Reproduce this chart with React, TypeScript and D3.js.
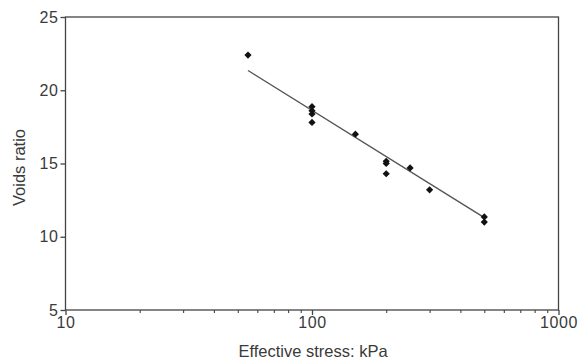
import React, { useEffect, useRef } from "react";
import * as d3 from "d3";

const stress: number[] = [55, 100, 100, 100, 100, 150, 200, 200, 200, 250, 300, 500, 500];
const voids: number[] = [22.4, 18.88, 18.6, 18.38, 17.8, 17.0, 15.15, 15.0, 14.3, 14.7, 13.2, 11.35, 11.0];
const trendStress: number[] = [55, 500];
const trendVoids: number[] = [21.35, 11.3];
const xMajorTicks: number[] = [10, 100, 1000];
const xMinorTicks: number[] = [20, 30, 40, 50, 60, 70, 80, 90, 200, 300, 400, 500, 600, 700, 800, 900];
const yTicks: number[] = [5, 10, 15, 20, 25];
const xTitle = "Effective stress: kPa";
const yTitle = "Voids ratio";

const W = 578;
const H = 360;
const M = { left: 65.5, right: 578 - 558.5, top: 17, bottom: 360 - 310 };
const FONT = "'Liberation Sans', Arial, sans-serif";
const TEXT = "#3a3a3a";
const AXIS = "#444";

export default function App() {
  const ref = useRef<SVGSVGElement | null>(null);

  useEffect(() => {
    const svg = d3.select(ref.current);
    svg.selectAll("*").remove();

    const x = d3.scaleLog().domain([10, 1000]).range([M.left, W - M.right]);
    const y = d3.scaleLinear().domain([5, 25]).range([H - M.bottom, M.top]);

    // frame
    svg
      .append("rect")
      .attr("x", M.left)
      .attr("y", M.top)
      .attr("width", W - M.right - M.left)
      .attr("height", H - M.bottom - M.top)
      .attr("fill", "none")
      .attr("stroke", AXIS)
      .attr("stroke-width", 1.3);

    // x major
    const gx = svg
      .append("g")
      .attr("transform", `translate(0,${H - M.bottom})`)
      .call(
        d3
          .axisBottom(x)
          .tickValues(xMajorTicks)
          .tickSize(5)
          .tickPadding(2)
          .tickFormat((d) => String(d))
      );
    gx.select(".domain").remove();
    gx.selectAll("line").attr("stroke", AXIS).attr("stroke-width", 1.3);
    gx.selectAll("text")
      .attr("font-family", FONT)
      .attr("font-size", 16)
      .attr("letter-spacing", 0.6)
      .attr("fill", TEXT);

    const gxm = svg
      .append("g")
      .attr("transform", `translate(0,${H - M.bottom})`)
      .call(d3.axisBottom(x).tickValues(xMinorTicks).tickSize(3).tickFormat(() => ""));
    gxm.select(".domain").remove();
    gxm.selectAll("line").attr("stroke", AXIS).attr("stroke-width", 1.1);

    // y axis
    const gy = svg
      .append("g")
      .attr("transform", `translate(${M.left},0)`)
      .call(d3.axisLeft(y).tickValues(yTicks).tickSize(5).tickPadding(2).tickFormat((d) => String(d)));
    gy.select(".domain").remove();
    gy.selectAll("line").attr("stroke", AXIS).attr("stroke-width", 1.3);
    gy.selectAll("text")
      .attr("font-family", FONT)
      .attr("font-size", 16)
      .attr("letter-spacing", 0.6)
      .attr("fill", TEXT);

    // titles
    svg
      .append("text")
      .attr("x", (M.left + W - M.right) / 2 + 1)
      .attr("y", 357)
      .attr("text-anchor", "middle")
      .attr("font-family", FONT)
      .attr("font-size", 16.5)
      .attr("fill", TEXT)
      .text(xTitle);
    svg
      .append("text")
      .attr("transform", `translate(25,${(M.top + H - M.bottom) / 2 + 4}) rotate(-90)`)
      .attr("text-anchor", "middle")
      .attr("font-family", FONT)
      .attr("font-size", 16.5)
      .attr("fill", TEXT)
      .text(yTitle);

    // trend line
    const line = d3
      .line<number>()
      .x((_, i) => x(trendStress[i]))
      .y((d) => y(d));
    svg
      .append("path")
      .attr("d", line(trendVoids) ?? "")
      .attr("fill", "none")
      .attr("stroke", "#555")
      .attr("stroke-width", 1.4);

    // points
    const sym = d3.symbol().type(d3.symbolSquare).size(26);
    svg
      .append("g")
      .selectAll("path")
      .data(stress)
      .join("path")
      .attr("d", sym() ?? "")
      .attr("transform", (d, i) => `translate(${x(d)},${y(voids[i])}) rotate(45)`)
      .attr("fill", "#111");
  }, []);

  return (
    <svg
      ref={ref}
      width={W}
      height={H}
      style={{ position: "absolute", left: 0, top: 0, background: "#fff" }}
    />
  );
}
